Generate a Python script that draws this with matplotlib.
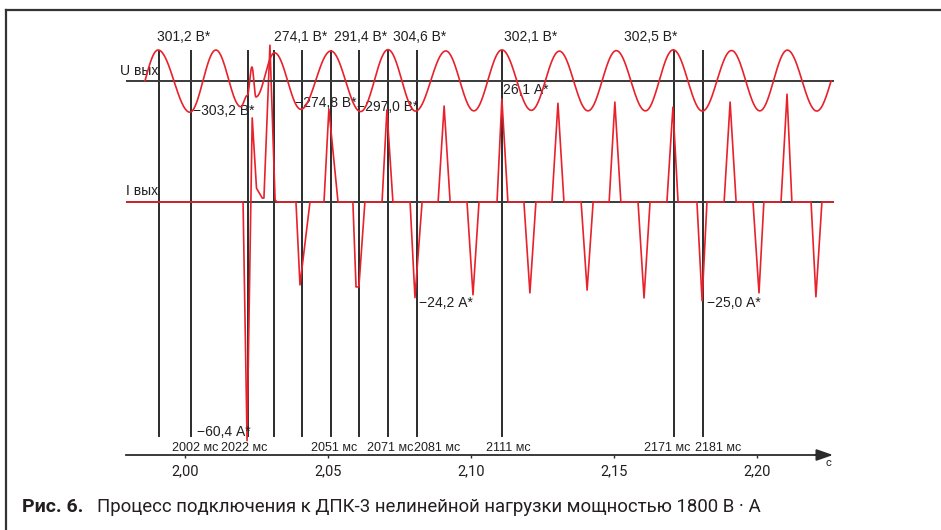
import numpy as np
import matplotlib
matplotlib.use('agg')
import matplotlib.pyplot as plt
from matplotlib.lines import Line2D
from matplotlib.transforms import blended_transform_factory
from matplotlib.ticker import FuncFormatter

# Output voltage: extremum points (ms, V)
u_time = [1986.0, 1990.6, 2001.7, 2010.8, 2019.5, 2021.8, 2023.4, 2024.8,
          2031.3, 2040.5, 2051.0, 2061.4, 2071.0, 2080.6, 2091.2, 2101.0,
          2110.8, 2121.1, 2130.9, 2140.9, 2150.8, 2161.0, 2170.7, 2180.9,
          2191.1, 2201.0, 2210.6, 2220.9, 2225.9]
u_value = [0, 301.2, -303.2, 301.0, -250.0, -140.0, 136.0, -155.0,
           274.1, -274.8, 291.4, -297.0, 304.6, -292.0, 292.0, -290.0,
           302.1, -285.0, 290.0, -290.0, 295.0, -290.0, 302.5, -292.0,
           296.0, -290.0, 300.0, -292.0, 0]

# Output current: vertices of the trace (ms, A)
i_time = [1979.7, 2020.3, 2021.7, 2023.5, 2025.0, 2027.0, 2027.6, 2029.7, 2031.5, 2032.2,
          2038.8, 2040.2, 2043.7,
          2048.6, 2050.3, 2053.5,
          2058.7, 2059.8, 2060.8, 2062.9,
          2068.9, 2070.6, 2072.7,
          2078.7, 2080.4, 2082.9,
          2088.5, 2090.6, 2092.7,
          2098.6, 2100.7, 2102.8,
          2109.1, 2110.8, 2112.9,
          2118.5, 2120.6, 2122.7,
          2128.3, 2130.4, 2132.5,
          2138.5, 2140.6, 2142.7,
          2148.3, 2150.3, 2152.4,
          2158.4, 2160.5, 2162.6,
          2168.5, 2170.6, 2172.4,
          2179.0, 2180.8, 2182.5,
          2188.5, 2190.6, 2192.7,
          2198.6, 2200.7, 2202.4,
          2208.4, 2210.5, 2212.2,
          2218.9, 2220.6, 2222.7,
          2226.6]
i_value = [0, 0, -60.4, 21.3, 3.5, 1.0, 1.0, 39.7, 0.5, 0,
           0, -21.0, 0,
           0, 23.5, 0,
           0, -21.5, -21.5, 0,
           0, 23.3, 0,
           0, -24.2, 0,
           0, 24.3, 0,
           0, -23.5, 0,
           0, 26.1, 0,
           0, -23.0, 0,
           0, 25.0, 0,
           0, -22.3, 0,
           0, 25.3, 0,
           0, -24.3, 0,
           0, 24.0, 0,
           0, -25.0, 0,
           0, 25.3, 0,
           0, -23.0, 0,
           0, 27.3, 0,
           0, -24.0, 0,
           0]

# time markers (ms)
marker_ms = [1991, 2002, 2022, 2031, 2041, 2051, 2061, 2071, 2081, 2111, 2171, 2181]
time_labels = ["2002 мс", "2022 мс", "2051 мс", "2071 мс", "2081 мс",
               "2111 мс", "2171 мс", "2181 мс"]
peak_labels = ["301,2 В*", "274,1 В*", "291,4 В*", "304,6 В*", "302,1 В*", "302,5 В*"]
low_labels = ["−303,2 В*", "−274,8 В*", "−297,0 В*", "26,1 А*",
              "−24,2 А*", "−25,0 А*", "−60,4 А*"]
xticks = [2.00, 2.05, 2.10, 2.15, 2.20]

RED = '#e8212b'
DARK = '#2b2b2b'
TXT = '#231f20'
FONT = 'Liberation Sans'
NARROW = ['Roboto', 'DejaVu Sans']

# layout (pixels of the 941x530 picture)
W, H = 941, 530
X0, X1, Y0, Y1 = 126, 836, 40, 455
U0_PX, U_SCALE = 81, 31 / 301.2      # px per volt
I0_PX, I_SCALE = 202, 3.95           # px per amp


def tsec(px):
    return 2.0 + (px - 185) / 2860.0


def yfrac(py):
    return (Y1 - py) / float(Y1 - Y0)


def smooth_trace(ts, vs, n=40):
    # half-wave shaping between read extremum points
    out_t, out_v = [], []
    for k in range(len(ts) - 1):
        s = np.linspace(0, 1, n, endpoint=False)
        v0, v1 = vs[k], vs[k + 1]
        if v0 == 0:
            seg = v1 * np.sin(np.pi / 2 * s)
        elif v1 == 0:
            seg = v0 * np.cos(np.pi / 2 * s)
        else:
            seg = v0 + (v1 - v0) * (1 - np.cos(np.pi * s)) / 2
        out_t.extend(ts[k] + (ts[k + 1] - ts[k]) * s)
        out_v.extend(seg)
    out_t.append(ts[-1])
    out_v.append(vs[-1])
    return np.array(out_t), np.array(out_v)


fig = plt.figure(figsize=(W / 100, H / 100), dpi=100)
rect = [X0 / W, 1 - Y1 / H, (X1 - X0) / W, (Y1 - Y0) / H]
ax_i = fig.add_axes(rect)
ax_u = fig.add_axes(rect, sharex=ax_i)
ax_u.patch.set_visible(False)
ax_u.axis('off')

ax_i.set_xlim(tsec(X0), tsec(X1))
ax_i.set_ylim(-(Y1 - I0_PX) / I_SCALE, (I0_PX - Y0) / I_SCALE)
ax_u.set_ylim(-(Y1 - U0_PX) / U_SCALE, (U0_PX - Y0) / U_SCALE)

# frame around the figure
fig.add_artist(Line2D([6 / W, 6 / W], [0, 1 - 10 / H], color='#333333', lw=1.6))
fig.add_artist(Line2D([6 / W, 1], [1 - 10 / H, 1 - 10 / H], color='#333333', lw=1.6))

# marker lines
for m in marker_ms:
    ax_i.axvline(m / 1000.0, ymin=yfrac(436), ymax=yfrac(51), color=DARK, lw=1.4, zorder=1)

# zero lines
ax_i.plot([tsec(126), tsec(833)], [0, 0], color='#3a3a3a', lw=1.4, zorder=1)
ax_u.plot([tsec(126), tsec(833)], [0, 0], color='#3a3a3a', lw=1.4, zorder=1)

# current and voltage
ax_i.plot(np.array(i_time) / 1000.0, i_value, color=RED, lw=1.2, zorder=3)
ut, uv = smooth_trace(u_time, u_value)
ax_u.plot(ut / 1000.0, uv, color=RED, lw=1.2, zorder=3)

# x axis
for side in ['left', 'right', 'top']:
    ax_i.spines[side].set_visible(False)
ax_i.spines['bottom'].set_color(DARK)
ax_i.spines['bottom'].set_linewidth(1.3)
ax_i.spines['bottom'].set_bounds(tsec(126), tsec(822))
ax_i.annotate('', xy=(tsec(833), 0), xytext=(tsec(815), 0),
              xycoords=('data', 'axes fraction'),
              arrowprops=dict(arrowstyle='-|>,head_length=1.0,head_width=0.35',
                              color=DARK, lw=1.3, mutation_scale=10, shrinkA=0, shrinkB=0),
              annotation_clip=False)
ax_i.set_yticks([])
ax_i.set_xticks(xticks)
ax_i.xaxis.set_major_formatter(FuncFormatter(lambda v, p: ('%.2f' % v).replace('.', ',')))
ax_i.tick_params(axis='x', direction='out', length=2.5, width=1, color=DARK,
                 labelsize=10.5, labelcolor=TXT, pad=4)
for lab in ax_i.get_xticklabels():
    lab.set_family(NARROW)

tr = blended_transform_factory(ax_i.transData, ax_i.transAxes)

# peak labels: (x px, ha)
peak_pos = [(157, 'left'), (274, 'left'), (334, 'left'), (393, 'left'), (504, 'left'), (677, 'right')]
for txt, (px, ha) in zip(peak_labels, peak_pos):
    ax_i.text(tsec(px), yfrac(37), txt, ha=ha, va='center', fontsize=10,
              family=FONT, color=TXT, transform=tr, clip_on=False)

low_pos = [(193, 111), (295, 103), (357, 107), (503, 90), (419, 303), (707, 303), (197, 432)]
for txt, (px, py) in zip(low_labels, low_pos):
    ax_i.text(tsec(px), yfrac(py), txt, ha='left', va='center', fontsize=10,
              family=FONT, color=TXT, transform=tr, zorder=5)

time_pos = [195, 244, 334, 390, 437, 508, 667, 718]
for txt, px in zip(time_labels, time_pos):
    ax_i.text(tsec(px), yfrac(448), txt, ha='center', va='center', fontsize=9,
              family=FONT, color=TXT, transform=tr)

ax_i.text(tsec(158), yfrac(71), 'U вых', ha='right', va='center', fontsize=10,
          family=FONT, color=TXT, transform=tr, clip_on=False)
ax_i.text(tsec(158), yfrac(191), 'I вых', ha='right', va='center', fontsize=10,
          family=FONT, color=TXT, transform=tr)
ax_i.text(tsec(828), yfrac(463), 'с', ha='center', va='center', fontsize=8,
          family=NARROW, color=TXT, transform=tr, clip_on=False)

# caption
fig.text(22 / W, 1 - 507 / H, 'Рис. 6.', ha='left', va='center', fontsize=14,
         family=NARROW, weight='bold', color=TXT)
fig.text(97 / W, 1 - 507 / H, 'Процесс подключения к ДПК‑3 нелинейной нагрузки мощностью 1800 В · А',
         ha='left', va='center', fontsize=13.4, family=NARROW, color=TXT)

fig.savefig('out.png', dpi=100)
